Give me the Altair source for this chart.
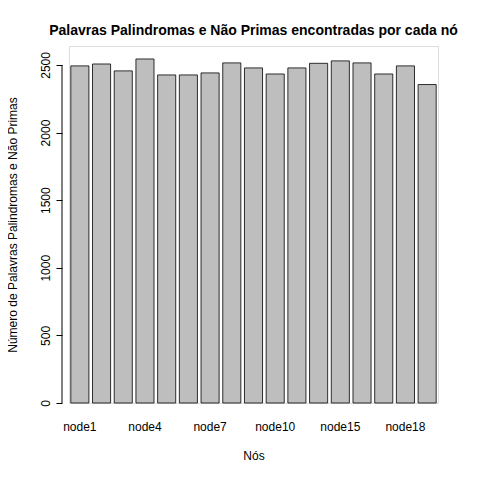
import altair as alt
import pandas as pd

nodes = ['node1', 'node2', 'node3', 'node4', 'node5', 'node6', 'node7', 'node8',
         'node9', 'node10', 'node12', 'node13', 'node15', 'node16', 'node17',
         'node18', 'node19']
counts = [2493, 2507, 2456, 2544, 2426, 2426, 2441, 2515, 2478, 2433,
          2478, 2512, 2530, 2515, 2433, 2493, 2355]
shown = ['node1', 'node4', 'node7', 'node10', 'node15', 'node18']
yticks = [0, 500, 1000, 1500, 2000, 2500]

df = pd.DataFrame({'no': nodes, 'n': counts})
FONT = 'Liberation Sans'

bars = alt.Chart(df).mark_bar(color='#BEBEBE', stroke='black', strokeWidth=0.8).encode(
    x=alt.X('no:N', sort=None, title='Nós',
            scale=alt.Scale(paddingInner=0.1667, paddingOuter=0.0833),
            axis=alt.Axis(domain=False, ticks=False, labelAngle=0, labelPadding=18,
                          labelFontSize=12, titleFontSize=12, titleFontWeight='normal',
                          titlePadding=18, labelColor='black', titleColor='black',
                          labelFont=FONT, titleFont=FONT,
                          labelExpr="indexof(" + str(shown) + ", datum.value) >= 0 ? datum.value : ''")),
    y=alt.Y('n:Q', title='Número de Palavras Palindromas e Não Primas',
            scale=alt.Scale(domain=[0, 2640], nice=False),
            axis=alt.Axis(values=yticks, format='d', domain=False, grid=False, offset=7,
                          tickSize=6, tickColor='black', labelAngle=270, labelAlign='center',
                          labelBaseline='bottom', labelPadding=4, labelFontSize=12,
                          titleFontSize=12, titleFontWeight='normal', titlePadding=20,
                          labelColor='black', titleColor='black',
                          labelFont=FONT, titleFont=FONT)),
)

yline = alt.Chart(pd.DataFrame({'a': [0], 'b': [2500]})).mark_rule(
    color='black', strokeWidth=1).encode(y='a:Q', y2='b:Q', x=alt.value(-7))

chart = alt.layer(bars, yline).properties(
    width=369, height=357,
    title=alt.TitleParams('Palavras Palindromas e Não Primas encontradas por cada nó',
                          font=FONT, fontSize=14, fontWeight='bold', anchor='middle',
                          offset=8, color='black'),
    autosize=alt.AutoSizeParams(type='none'),
    padding={'left': 61, 'top': 38, 'right': 34, 'bottom': 69},
).configure_view(strokeWidth=0).configure(background='white')

chart.save('out.html', embed_options={'renderer': 'svg', 'actions': False})
